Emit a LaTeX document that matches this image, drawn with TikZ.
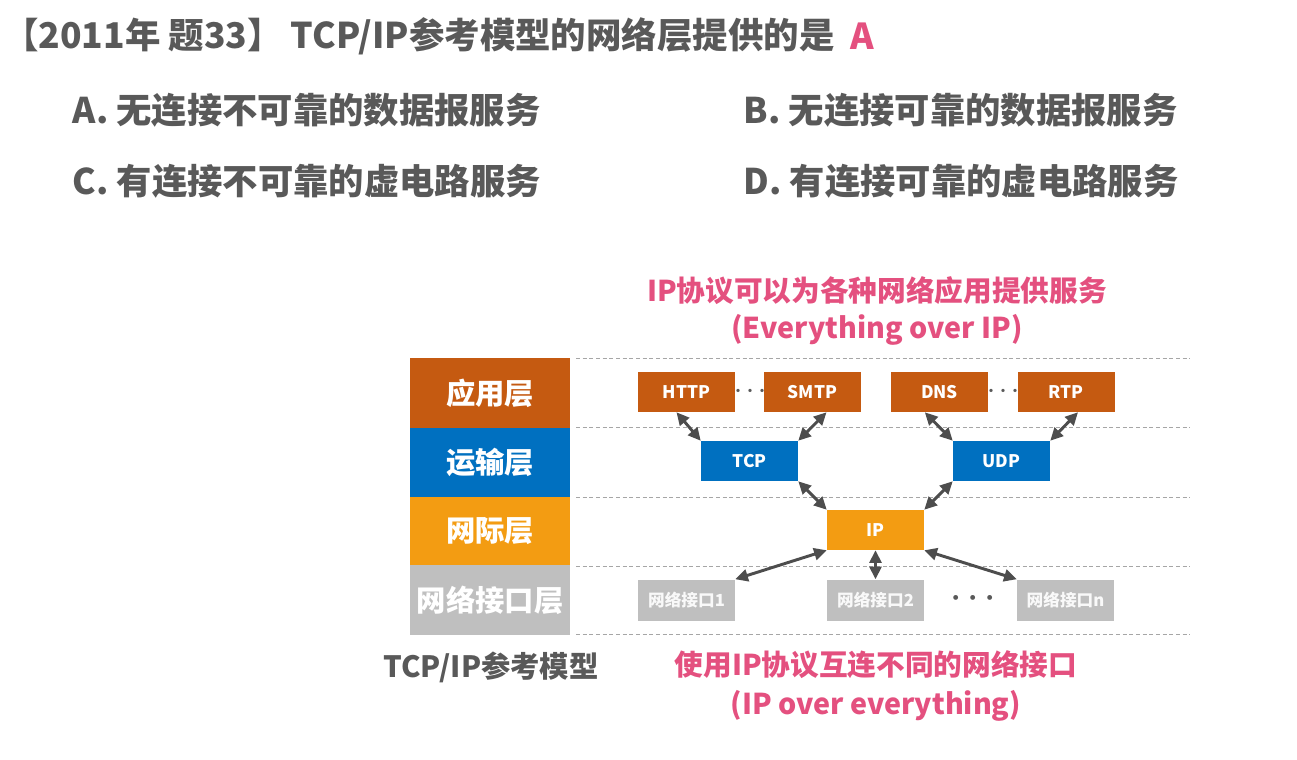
\documentclass[tikz,border=0pt]{standalone}
\usepackage{fontspec}
\setmainfont{Noto Sans CJK SC}
\usetikzlibrary{arrows.meta}
\definecolor{txtgray}{HTML}{595959}
\definecolor{pinkc}{HTML}{E4507F}
\definecolor{appc}{HTML}{C55A11}
\definecolor{tpc}{HTML}{0070C0}
\definecolor{netc}{HTML}{F39C12}
\definecolor{ifc}{HTML}{BFBFBF}
\definecolor{arrc}{HTML}{4D4D4D}
\definecolor{dashc}{HTML}{A6A6A6}
\tikzset{
  layer/.style={minimum width=120pt, minimum height=52pt, inner sep=0, text=white,
    font=\fontsize{22}{24}\selectfont\bfseries},
  proto/.style={minimum width=72.75pt, minimum height=30pt, inner sep=0, text=white,
    font=\fontsize{13}{15}\selectfont\bfseries},
  ifbox/.style={fill=ifc, minimum width=72.75pt, minimum height=30.75pt, inner sep=0,
    text=white!95!gray, font=\fontsize{12.5}{14}\selectfont\bfseries},
  sep/.style={draw=dashc, densely dashed, line width=0.6pt},
  link/.style={draw=arrc, line width=2.2pt, {Triangle[length=9.5pt,width=9pt]}-{Triangle[length=9.5pt,width=9pt]}},
  question/.style={anchor=west, text=txtgray, font=\fontsize{26.5}{30}\selectfont\bfseries},
  note/.style={text=pinkc, font=\fontsize{21.5}{28}\selectfont\bfseries, align=center},
  dots/.style={text=txtgray, font=\fontsize{9}{10}\selectfont\bfseries}
}
\begin{document}
\begin{tikzpicture}[x=0.75pt, y=-0.75pt]
\useasboundingbox[fill=white] (0,0) rectangle (1297,760);

% question and choices
\node[question, inner sep=0, font=\fontsize{26.6}{30}\selectfont\bfseries] (title) at (3,36) {【2011年 题33】 TCP/IP参考模型的网络层提供的是};
\node[text=pinkc, font=\fontsize{26.8}{30}\selectfont\bfseries] (ans) at (862,36) {A};
\node[question] (qa) at (68,110) {A. 无连接不可靠的数据报服务};
\node[question] (qb) at (739,110) {B. 无连接可靠的数据报服务};
\node[question] (qc) at (68,181) {C. 有连接不可靠的虚电路服务};
\node[question] (qd) at (739,181) {D. 有连接可靠的虚电路服务};

% layer separators
\foreach \yy in {358,427,497,566,634}
  \draw[sep] (576,\yy) -- (1190,\yy);

% layer column
\node[layer, fill=appc] (lapp) at (490,393) {应用层};
\node[layer, fill=tpc] (ltp) at (490,462.5) {运输层};
\node[layer, fill=netc] (lnet) at (490,531.5) {网际层};
\node[layer, fill=ifc] (lif) at (490,600) {网络接口层};
\node[text=txtgray, font=\fontsize{22}{24}\selectfont\bfseries] (model) at (491,667) {TCP/IP参考模型};

% protocols
\node[proto, fill=appc] (http) at (686.5,392) {HTTP};
\node[proto, fill=appc] (smtp) at (812.5,392) {SMTP};
\node[proto, fill=appc] (dns) at (939.5,392) {DNS};
\node[proto, fill=appc] (rtp) at (1066,392) {RTP};
\node[dots] (d1) at (750,392) {•••};
\node[dots] (d2) at (1003,392) {•••};
\node[proto, fill=tpc] (tcp) at (749.5,461) {TCP};
\node[proto, fill=tpc] (udp) at (1001.5,461) {UDP};
\node[proto, fill=netc] (ip) at (875.5,530) {IP};
\node[ifbox] (if1) at (686.5,600) {网络接口1};
\node[ifbox] (if2) at (875.5,600) {网络接口2};
\node[ifbox] (ifn) at (1065.5,600) {网络接口n};
\node[text=txtgray, font=\fontsize{13}{14}\selectfont\bfseries] (d3) at (973,600) {•••};

% links
\draw[link] ([xshift=-7.5pt]http.south) -- (tcp.north west);
\draw[link] ([xshift=10.5pt]smtp.south) -- (tcp.north east);
\draw[link] ([xshift=-11pt]dns.south) -- (udp.north west);
\draw[link] ([xshift=9pt]rtp.south) -- (udp.north east);
\draw[link] (tcp.south east) -- (ip.north west);
\draw[link] (udp.south west) -- (ip.north east);
\draw[link] (ip.south west) -- (if1.north east);
\draw[link] (ip.south) -- (if2.north);
\draw[link] (ip.south east) -- (ifn.north west);

% notes
\node[note] (top) at (877,311) {IP协议可以为各种网络应用提供服务\\(Everything over IP)};
\node[note, font=\fontsize{21.5}{29.5}\selectfont\bfseries] (bot) at (876,686) {使用IP协议互连不同的网络接口\\(IP over everything)};
\end{tikzpicture}
\end{document}
